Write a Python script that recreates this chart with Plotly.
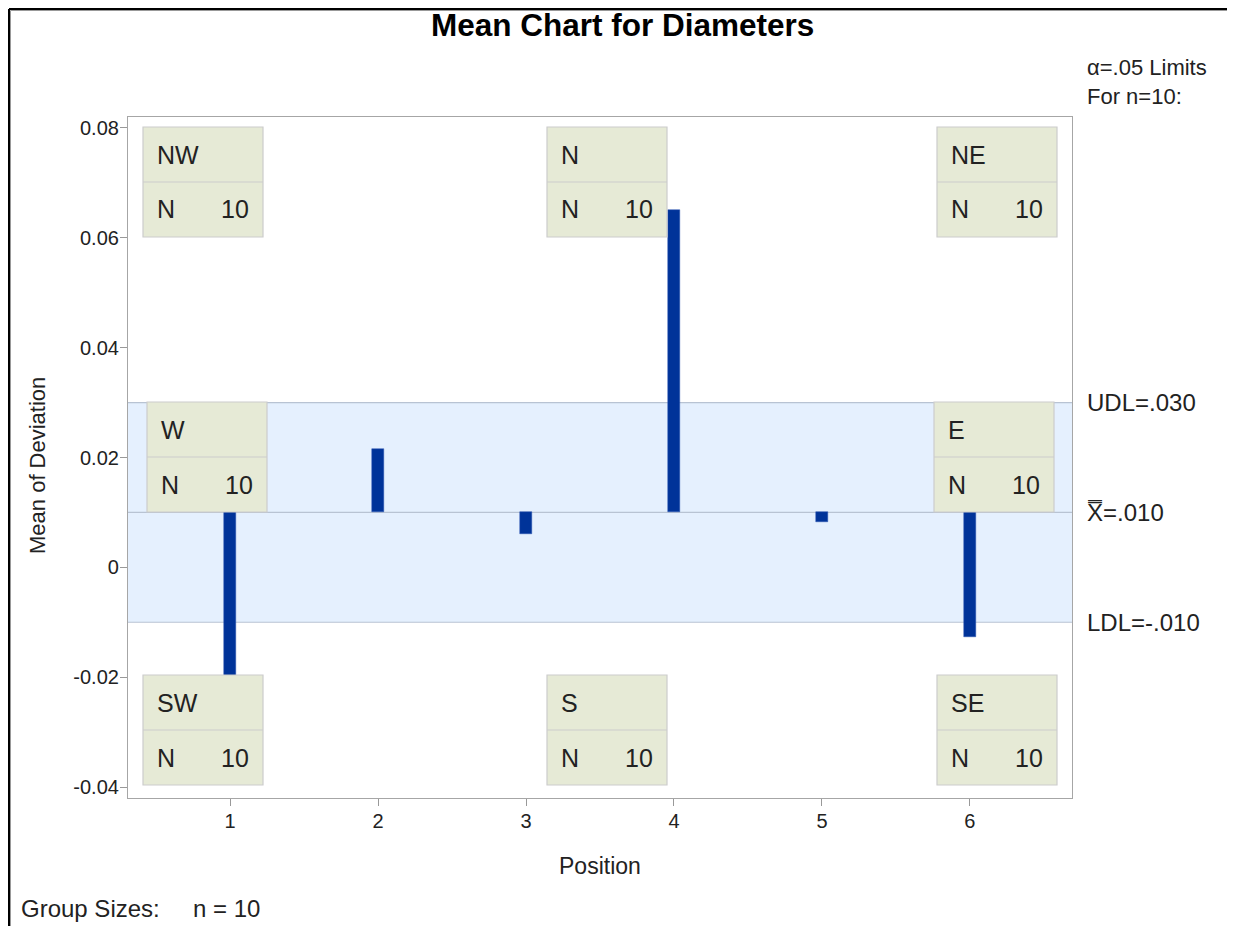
import plotly.graph_objects as go

# ---- data ----
positions = [1, 2, 3, 4, 5, 6]
means = [-0.0199, 0.0215, 0.0060, 0.0650, 0.0082, -0.0126]
center = 0.010
udl = 0.030
ldl = -0.010
x_ticks = [1, 2, 3, 4, 5, 6]
y_ticks = [-0.04, -0.02, 0, 0.02, 0.04, 0.06, 0.08]
y_tick_text = ["-0.04", "-0.02", "0", "0.02", "0.04", "0.06", "0.08"]
inset_labels = ["NW", "N", "NE", "W", "E", "SW", "S", "SE"]
inset_n = [10, 10, 10, 10, 10, 10, 10, 10]

# page has an 8px body margin; coordinates below are screenshot pixels
OFF = 8
W, H = 1235, 926
L, R, T, B = 128, 1072, 117, 798
pw, ph = R - L, B - T

def px(x):
    return (x - L) / pw

def py(y):
    return (B - y) / ph

FONT = "Liberation Sans, Arial, sans-serif"
TXT = "#222222"

fig = go.Figure()
fig.add_trace(go.Bar(
    x=positions,
    y=[m - center for m in means],
    base=center,
    width=0.08,
    marker=dict(color="#003399", line=dict(color="#2a55b0", width=0.5)),
    showlegend=False,
    hoverinfo="skip",
))

shapes = []
shapes.append(dict(type="rect", xref="paper", yref="y", x0=0, x1=1, y0=ldl, y1=udl,
                   fillcolor="#E5F0FE", line=dict(width=0), layer="below"))
for v in (udl, center, ldl):
    shapes.append(dict(type="line", xref="paper", yref="y", x0=0, x1=1, y0=v, y1=v,
                       line=dict(color="#B8C3D3", width=1.2), layer="below"))

box_pos = [(143, 127), (547, 127), (937, 127), (147, 402), (934, 402),
           (143, 675), (547, 675), (937, 675)]
bw, bh = 120, 110
annotations = []
box_font = dict(family=FONT, size=25, color=TXT)
for (lx, ty), lab, n in zip(box_pos, inset_labels, inset_n):
    shapes.append(dict(type="rect", xref="paper", yref="paper",
                       x0=px(lx), x1=px(lx + bw), y0=py(ty + bh), y1=py(ty),
                       fillcolor="#E6EAD6", line=dict(color="#CCCCCC", width=1.2), layer="above"))
    shapes.append(dict(type="line", xref="paper", yref="paper",
                       x0=px(lx), x1=px(lx + bw), y0=py(ty + bh / 2), y1=py(ty + bh / 2),
                       line=dict(color="#CCCCCC", width=1.2), layer="above"))
    annotations.append(dict(xref="paper", yref="paper", x=px(lx + 12), y=py(ty + bh / 4),
                            text=lab, showarrow=False, xanchor="left", yanchor="middle", font=box_font))
    annotations.append(dict(xref="paper", yref="paper", x=px(lx + 12), y=py(ty + 3 * bh / 4),
                            text="N", showarrow=False, xanchor="left", yanchor="middle", font=box_font))
    annotations.append(dict(xref="paper", yref="paper", x=px(lx + 108), y=py(ty + 3 * bh / 4),
                            text=str(n), showarrow=False, xanchor="right", yanchor="middle", font=box_font))

lab_font = dict(family=FONT, size=24, color=TXT)
annotations.append(dict(xref="paper", yref="y", x=px(1085), y=udl, text="UDL=.030",
                        showarrow=False, xanchor="left", yanchor="middle", font=lab_font))
annotations.append(dict(xref="paper", yref="y", x=px(1085), y=center, text="X\u033F=.010",
                        showarrow=False, xanchor="left", yanchor="middle", font=lab_font))
annotations.append(dict(xref="paper", yref="y", x=px(1085), y=ldl, text="LDL=-.010",
                        showarrow=False, xanchor="left", yanchor="middle", font=lab_font))
annotations.append(dict(xref="paper", yref="paper", x=px(1085), y=py(82),
                        text="\u03b1=.05 Limits<br>For n=10:", align="left",
                        showarrow=False, xanchor="left", yanchor="middle",
                        font=dict(family=FONT, size=22, color=TXT)))
annotations.append(dict(xref="paper", yref="paper", x=px(19), y=py(908),
                        text="Group Sizes:&nbsp;&nbsp;&nbsp;&nbsp;&nbsp;n = 10",
                        showarrow=False, xanchor="left", yanchor="middle", font=lab_font))
# title and axis titles
annotations.append(dict(xref="paper", yref="paper", x=px(622), y=py(25),
                        text="<b>Mean Chart for Diameters</b>", showarrow=False,
                        xanchor="center", yanchor="middle",
                        font=dict(family=FONT, size=31.5, color="#000000")))
annotations.append(dict(xref="paper", yref="paper", x=px(600), y=py(866),
                        text="Position", showarrow=False, xanchor="center", yanchor="middle",
                        font=dict(family=FONT, size=23, color=TXT)))
annotations.append(dict(xref="paper", yref="paper", x=px(37), y=py(466),
                        text="Mean of Deviation", showarrow=False, textangle=-90,
                        xanchor="center", yanchor="middle",
                        font=dict(family=FONT, size=22, color=TXT)))

# outer frame (SAS graph border)
shapes.append(dict(type="line", xref="paper", yref="paper", x0=px(9), x1=px(1250), y0=py(9), y1=py(9),
                   line=dict(color="#000000", width=2)))
shapes.append(dict(type="line", xref="paper", yref="paper", x0=px(9), x1=px(9), y0=py(9), y1=py(940),
                   line=dict(color="#000000", width=2)))
shapes.append(dict(type="line", xref="paper", yref="paper", x0=px(10.5), x1=px(1234), y0=py(10.5), y1=py(10.5),
                   line=dict(color="#999999", width=1)))
shapes.append(dict(type="line", xref="paper", yref="paper", x0=px(10.5), x1=px(10.5), y0=py(10.5), y1=py(940),
                   line=dict(color="#999999", width=1)))
shapes.append(dict(type="line", xref="paper", yref="paper", x0=px(1234), x1=px(1234), y0=py(10.5), y1=py(940),
                   line=dict(color="#AAAAAA", width=1.5)))

fig.update_layout(
    width=W, height=H,
    margin=dict(l=L - OFF, r=W - (R - OFF), t=T - OFF, b=H - (B - OFF), pad=0),
    paper_bgcolor="white", plot_bgcolor="white",
    font=dict(family=FONT, size=20, color=TXT),
    shapes=shapes,
    annotations=annotations,
    bargap=0,
)
fig.update_xaxes(range=[0.31, 6.69], tickvals=x_ticks, ticktext=[str(v) for v in x_ticks],
                 ticks="outside", ticklen=7, tickcolor="#999999", showgrid=False, zeroline=False,
                 showline=True, linecolor="#A6A6A6", linewidth=1.2, mirror=True,
                 ticklabelstandoff=-2,
                 tickfont=dict(family=FONT, size=20, color=TXT))
fig.update_yaxes(range=[-0.042, 0.082], tickvals=y_ticks, ticktext=y_tick_text,
                 ticks="outside", ticklen=7, tickcolor="#999999", showgrid=False, zeroline=False,
                 showline=True, linecolor="#A6A6A6", linewidth=1.2, mirror=True,
                 ticklabelstandoff=-3,
                 tickfont=dict(family=FONT, size=20, color=TXT))

fig.write_html("out.html")
